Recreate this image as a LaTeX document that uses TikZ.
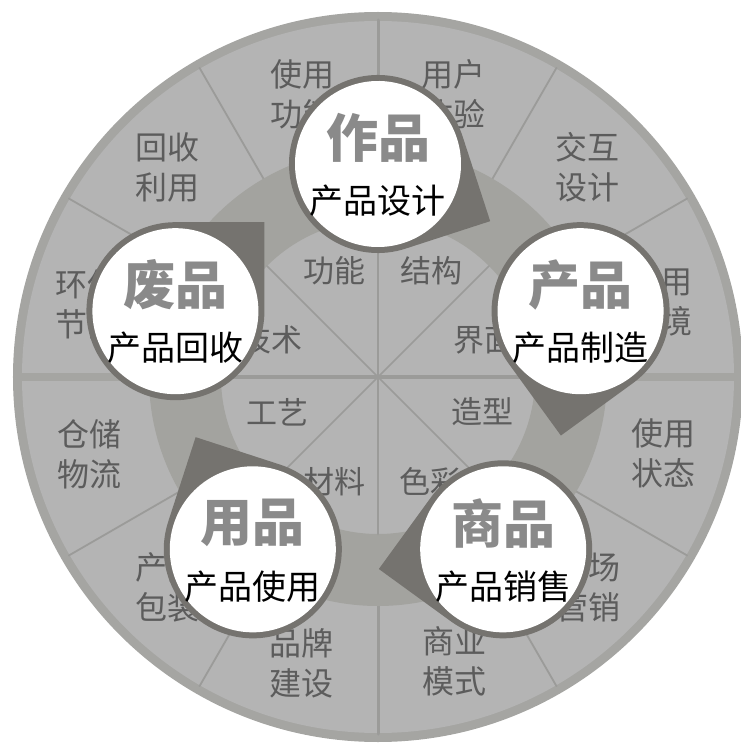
\documentclass[tikz,border=0pt]{standalone}
\usepackage{fontspec}
\newfontfamily\cjk{Noto Sans CJK SC}
\usepackage{tikz}
\definecolor{rimgray}{HTML}{A5A5A2}
\definecolor{sectgray}{HTML}{B4B4B4}
\definecolor{ringgray}{HTML}{A3A39F}
\definecolor{linegray}{HTML}{9B9B99}
\definecolor{cornergray}{HTML}{75736F}
\definecolor{titlegray}{HTML}{8A8A8A}
\definecolor{labelgray}{HTML}{5C5C5C}
\tikzset{
  outlabel/.style={font=\cjk\fontsize{32}{40}\selectfont,text=labelgray,align=center,inner sep=0pt},
  inlabel/.style={font=\cjk\fontsize{31}{38}\selectfont,text=labelgray,inner sep=0pt},
  titletext/.style={font=\cjk\bfseries\fontsize{52}{60}\selectfont,text=titlegray,inner sep=0pt},
  subtext/.style={font=\cjk\fontsize{34}{40}\selectfont,text=black,inner sep=0pt}
}

\begin{document}
\begin{tikzpicture}[line cap=round,line join=round,x=1pt,y=1pt]
\useasboundingbox (-378,-367) rectangle (362,377);
% big disc with rim
\fill [color=rimgray] (0,0) circle (365pt);
\fill [color=sectgray] (0,0) circle (356pt);
% outer ring dividers
\draw [line width=1.8pt,color=linegray] (30:229pt)-- (30:357pt);
\draw [line width=1.8pt,color=linegray] (60:229pt)-- (60:357pt);
\draw [line width=1.8pt,color=linegray] (120:229pt)-- (120:357pt);
\draw [line width=1.8pt,color=linegray] (150:229pt)-- (150:357pt);
\draw [line width=1.8pt,color=linegray] (210:229pt)-- (210:357pt);
\draw [line width=1.8pt,color=linegray] (240:229pt)-- (240:357pt);
\draw [line width=1.8pt,color=linegray] (300:229pt)-- (300:357pt);
\draw [line width=1.8pt,color=linegray] (330:229pt)-- (330:357pt);
\draw [line width=3pt,color=linegray] (90:229pt)-- (90:357pt);
\draw [line width=3pt,color=linegray] (270:229pt)-- (270:357pt);
\draw [line width=8pt,color=rimgray,line cap=butt] (0:229pt)-- (0:360pt);
\draw [line width=8pt,color=rimgray,line cap=butt] (180:229pt)-- (180:360pt);
% middle ring
\fill [color=ringgray,even odd rule] (0,0) circle (229pt) circle (157pt);
% inner disc dividers
\draw [line width=1.5pt,color=linegray] (45:157pt)-- (225:157pt);
\draw [line width=1.5pt,color=linegray] (135:157pt)-- (315:157pt);
\draw [line width=2.5pt,color=linegray] (90:157pt)-- (270:157pt);
\draw [line width=4pt,color=linegray,line cap=butt] (0:157pt)-- (180:157pt);
% outer labels
\node [outlabel] (uses) at (105:293pt) {使用\\功能};
\node [outlabel] (ux) at (75:293pt) {用户\\体验};
\node [outlabel] (inter) at (45:296pt) {交互\\设计};
\node [outlabel] (env) at (15:292pt) {使用\\环境};
\node [outlabel] (state) at (-15:296pt) {使用\\状态};
\node [outlabel] (market) at (-45:297pt) {市场\\营销};
\node [outlabel] (biz) at (-75:294pt) {商业\\模式};
\node [outlabel] (brand) at (-105:296pt) {品牌\\建设};
\node [outlabel] (pack) at (-135:297pt) {产品\\包装};
\node [outlabel] (store) at (-165:299pt) {仓储\\物流};
\node [outlabel] (save) at (166:299pt) {环保\\节能};
\node [outlabel] (recycle) at (135:297pt) {回收\\利用};
% inner labels
\node [inlabel] (func) at (-43,106) {功能};
\node [inlabel] (struct) at (53,106) {结构};
\node [inlabel] (face) at (106,37) {界面};
\node [inlabel] (shape) at (104,-35) {造型};
\node [inlabel] (colour) at (52,-105) {色彩};
\node [inlabel] (mat) at (-43,-105) {材料};
\node [inlabel] (craft) at (-100,-35) {工艺};
\node [inlabel] (tech) at (-106,37) {技术};
% the five stages
\coordinate (czuo) at (90:213pt);
\coordinate (cchan) at (18:213pt);
\coordinate (cshang) at (-54:213pt);
\coordinate (cyong) at (-126:213pt);
\coordinate (cfei) at (162:213pt);
\begin{scope}[shift={(czuo)},rotate=-27]
\fill [color=cornergray] (-45:89pt)-- (125.9pt,0)-- (45:89pt) arc[start angle=45,end angle=315,radius=89pt]-- cycle;
\fill [color=white] (0,0) circle (83pt);
\end{scope}
\begin{scope}[shift={(cchan)},rotate=-99]
\fill [color=cornergray] (-45:89pt)-- (125.9pt,0)-- (45:89pt) arc[start angle=45,end angle=315,radius=89pt]-- cycle;
\fill [color=white] (0,0) circle (83pt);
\end{scope}
\begin{scope}[shift={(cshang)},rotate=-171]
\fill [color=cornergray] (-45:89pt)-- (125.9pt,0)-- (45:89pt) arc[start angle=45,end angle=315,radius=89pt]-- cycle;
\fill [color=white] (0,0) circle (83pt);
\end{scope}
\begin{scope}[shift={(cyong)},rotate=117]
\fill [color=cornergray] (-45:89pt)-- (125.9pt,0)-- (45:89pt) arc[start angle=45,end angle=315,radius=89pt]-- cycle;
\fill [color=white] (0,0) circle (83pt);
\end{scope}
\begin{scope}[shift={(cfei)},rotate=45]
\fill [color=cornergray] (-45:89pt)-- (125.9pt,0)-- (45:89pt) arc[start angle=45,end angle=315,radius=89pt]-- cycle;
\fill [color=white] (0,0) circle (83pt);
\end{scope}
\node [titletext] (tzuo) at ([yshift=26pt]czuo) {作品};
\node [subtext] (szuo) at ([yshift=-37pt]czuo) {产品设计};
\node [titletext] (tchan) at ([yshift=26pt]cchan) {产品};
\node [subtext] (schan) at ([yshift=-37pt]cchan) {产品制造};
\node [titletext] (tshang) at ([yshift=26pt]cshang) {商品};
\node [subtext] (sshang) at ([yshift=-37pt]cshang) {产品销售};
\node [titletext] (tyong) at ([yshift=26pt]cyong) {用品};
\node [subtext] (syong) at ([yshift=-37pt]cyong) {产品使用};
\node [titletext] (tfei) at ([yshift=26pt]cfei) {废品};
\node [subtext] (sfei) at ([yshift=-37pt]cfei) {产品回收};
\end{tikzpicture}
\end{document}
